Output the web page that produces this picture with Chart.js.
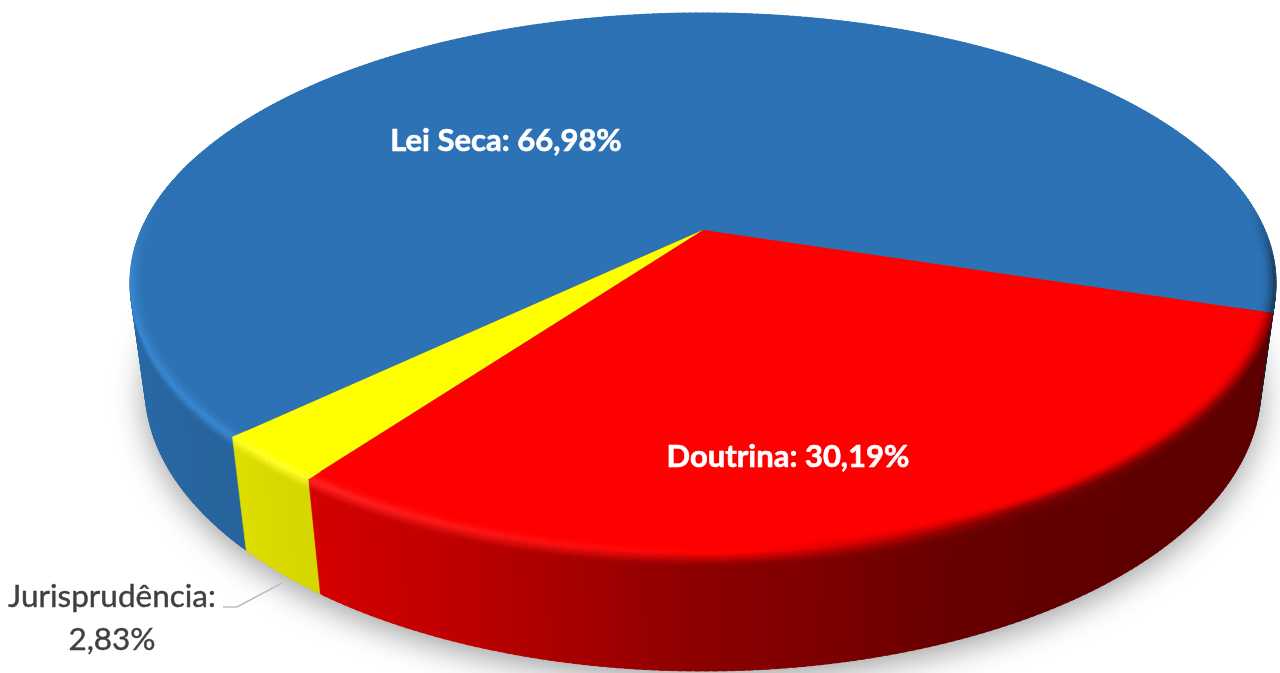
<!DOCTYPE html>
<html lang="pt">
<head>
<meta charset="utf-8">
<title>Lei Seca, Doutrina e Jurisprudência</title>
<script src="https://cdn.jsdelivr.net/npm/chart.js@4"></script>
<style>
    html, body { margin: 0; background: #fff; overflow: hidden; }
    canvas { display: block; }
</style>
</head>
<body>
<canvas id="pizza" width="1280" height="673"></canvas>
<script>
const labels = ['Lei Seca', 'Doutrina', 'Jurisprudência'];
const values = [66.98, 30.19, 2.83];
const sliceColors = [[45, 114, 180], [255, 0, 0], [255, 255, 0]];
const highlightColors = [[58, 138, 212], [255, 38, 38], [255, 255, 40]];

// camera used to lay the pie on its side
const PERSP = 0.196, PERSP_DEPTH = 0.026;
const SCALE_X = 2.443, SCALE_Y = 1.129, SCALE_DEPTH = 0.4626;

// how dark the side wall gets going left to right (cos of the angle, factor)
const wallShade = [[-1, 0.93], [-0.6, 0.84], [-0.4, 0.76], [-0.2, 0.66], [0, 0.55], [0.17, 0.49], [0.33, 0.42], [0.5, 0.38], [1, 0.36]];

function project(arc, angle, r, z) {
    const u = r * Math.cos(angle);
    const s = r * Math.sin(angle);
    const w = 1 - PERSP * s + PERSP_DEPTH * z;
    return {
        x: arc.x + SCALE_X * arc.outerRadius * u / w,
        y: arc.y + (SCALE_Y * s + SCALE_DEPTH * z) * arc.outerRadius / w
    };
}

function mix(a, b, t) {
    return a.map((c, i) => c + (b[i] - c) * t);
}

function css(c) {
    return `rgb(${Math.round(c[0])},${Math.round(c[1])},${Math.round(c[2])})`;
}

function clamp(v) {
    return Math.max(0, Math.min(1, v));
}

function shadeAt(u) {
    for (let i = 1; i < wallShade.length; i++) {
        if (u <= wallShade[i][0]) {
            const [u0, v0] = wallShade[i - 1];
            const [u1, v1] = wallShade[i];
            return v0 + (v1 - v0) * (u - u0) / (u1 - u0);
        }
    }
    return wallShade[wallShade.length - 1][1];
}

function wallColor(index, angle) {
    return sliceColors[index].map(c => c * shadeAt(Math.cos(angle)));
}

// colour of the rounded edge where the top meets the wall
function rimColor(index, angle) {
    const u = Math.cos(angle);
    const s = Math.sin(angle);
    const base = sliceColors[index];
    const fade = clamp((s + 0.1) / 0.25);
    const lit = mix(base, highlightColors[index], clamp(-u * 1.6 + 0.1));
    const dark = mix(lit, wallColor(index, angle), clamp((u - 0.05) * 2.5) * 0.8);
    return mix(base, dark, fade);
}

function fillQuad(ctx, a, b, c, d, color) {
    ctx.fillStyle = color;
    ctx.strokeStyle = color;
    ctx.lineWidth = 0.6;
    ctx.beginPath();
    ctx.moveTo(a.x, a.y);
    ctx.lineTo(b.x, b.y);
    ctx.lineTo(c.x, c.y);
    ctx.lineTo(d.x, d.y);
    ctx.closePath();
    ctx.fill();
    ctx.stroke();
}

// splits a slice into short angular pieces that overlap a little, so no seams show
function sliceSteps(arc, stepSize) {
    const steps = [];
    const span = arc.endAngle - arc.startAngle;
    const n = Math.ceil(span / stepSize);
    for (let i = 0; i < n; i++) {
        const a0 = arc.startAngle + span * i / n;
        const a1 = Math.min(arc.endAngle, arc.startAngle + span * (i + 1.6) / n);
        steps.push([a0, a1]);
    }
    return steps;
}

const pie3d = {
    id: 'pie3d',
    beforeDatasetsDraw(chart) {
        const ctx = chart.ctx;
        const arcs = chart.getDatasetMeta(0).data;
        const step = Math.PI / 240;
        const first = arcs[0];

        // soft shadow under the base
        ctx.save();
        ctx.shadowColor = 'rgba(0,0,0,0.38)';
        ctx.shadowBlur = 32;
        ctx.shadowOffsetY = 8;
        ctx.fillStyle = '#666';
        ctx.beginPath();
        for (let i = 0; i < 360; i++) {
            const p = project(first, i * Math.PI / 180, 1, 1);
            if (i === 0) ctx.moveTo(p.x, p.y); else ctx.lineTo(p.x, p.y);
        }
        ctx.closePath();
        ctx.fill();
        ctx.restore();

        // side wall, back to front
        const quads = [];
        arcs.forEach((arc, index) => {
            sliceSteps(arc, step).forEach(([a0, a1]) => {
                if (Math.sin((a0 + a1) / 2) > -0.3) quads.push({ arc, index, a0, a1 });
            });
        });
        quads.sort((p, q) => Math.sin((p.a0 + p.a1) / 2) - Math.sin((q.a0 + q.a1) / 2));
        const bevel = [0, 0.02, 0.04, 0.06, 0.08, 0.1];
        quads.forEach(({ arc, index, a0, a1 }) => {
            const mid = (a0 + a1) / 2;
            const wall = wallColor(index, mid);
            fillQuad(ctx, project(arc, a0, 1, 0.1), project(arc, a1, 1, 0.1),
                project(arc, a1, 1, 1), project(arc, a0, 1, 1), css(wall));
            const rim = rimColor(index, mid);
            for (let i = 0; i < bevel.length - 1; i++) {
                fillQuad(ctx, project(arc, a0, 1, bevel[i]), project(arc, a1, 1, bevel[i]),
                    project(arc, a1, 1, bevel[i + 1]), project(arc, a0, 1, bevel[i + 1]),
                    css(mix(rim, wall, (i + 0.5) / (bevel.length - 1))));
            }
        });

        // top faces
        arcs.forEach((arc, index) => {
            ctx.fillStyle = css(sliceColors[index]);
            ctx.beginPath();
            ctx.moveTo(arc.x, arc.y);
            const n = Math.ceil((arc.endAngle - arc.startAngle) / step);
            for (let i = 0; i <= n; i++) {
                const p = project(arc, arc.startAngle + (arc.endAngle - arc.startAngle) * i / n, 1, 0);
                ctx.lineTo(p.x, p.y);
            }
            ctx.closePath();
            ctx.fill();
        });

        // rounded edge of the top faces
        const rings = [0.975, 0.98, 0.985, 0.99, 0.995, 1];
        arcs.forEach((arc, index) => {
            const base = sliceColors[index];
            sliceSteps(arc, step).forEach(([a0, a1]) => {
                const rim = rimColor(index, (a0 + a1) / 2);
                for (let i = 0; i < rings.length - 1; i++) {
                    const t = (i + 0.5) / (rings.length - 1);
                    fillQuad(ctx, project(arc, a0, rings[i], 0), project(arc, a1, rings[i], 0),
                        project(arc, a1, rings[i + 1], 0), project(arc, a0, rings[i + 1], 0),
                        css(mix(base, rim, t * t)));
                }
            });
        });
        return false;
    },
    afterDraw(chart) {
        const ctx = chart.ctx;
        const text = values.map(v => v.toFixed(2).replace('.', ',') + '%');
        ctx.save();
        ctx.textAlign = 'center';
        ctx.textBaseline = 'middle';
        ctx.lineJoin = 'round';

        ctx.fillStyle = '#fff';
        ctx.strokeStyle = '#fff';
        ctx.lineWidth = 0.6;
        ctx.font = 'bold 31px Lato';
        ctx.fillText(`${labels[0]}: ${text[0]}`, 506, 141);
        ctx.strokeText(`${labels[0]}: ${text[0]}`, 506, 141);
        ctx.fillText(`${labels[1]}: ${text[1]}`, 788, 457);
        ctx.strokeText(`${labels[1]}: ${text[1]}`, 788, 457);

        ctx.fillStyle = '#404040';
        ctx.strokeStyle = '#404040';
        ctx.lineWidth = 0.4;
        ctx.font = '31.5px Lato';
        ctx.fillText(`${labels[2]}:`, 112, 597);
        ctx.strokeText(`${labels[2]}:`, 112, 597);
        ctx.fillText(text[2], 112, 640);
        ctx.strokeText(text[2], 112, 640);

        // leader line for the thin slice
        ctx.strokeStyle = '#bfbfbf';
        ctx.lineWidth = 1.5;
        ctx.beginPath();
        ctx.moveTo(223, 607);
        ctx.lineTo(237, 607);
        ctx.lineTo(282, 583);
        ctx.stroke();
        ctx.restore();
    }
};

new Chart(document.getElementById('pizza'), {
    type: 'pie',
    data: {
        labels: labels,
        datasets: [{
            data: values,
            backgroundColor: sliceColors.map(css),
            borderWidth: 0
        }]
    },
    options: {
        responsive: false,
        animation: false,
        rotation: 226.4,
        layout: { padding: { left: 126, bottom: 213 } },
        plugins: { legend: { display: false }, tooltip: { enabled: false } }
    },
    plugins: [pie3d]
});
</script>
</body>
</html>
